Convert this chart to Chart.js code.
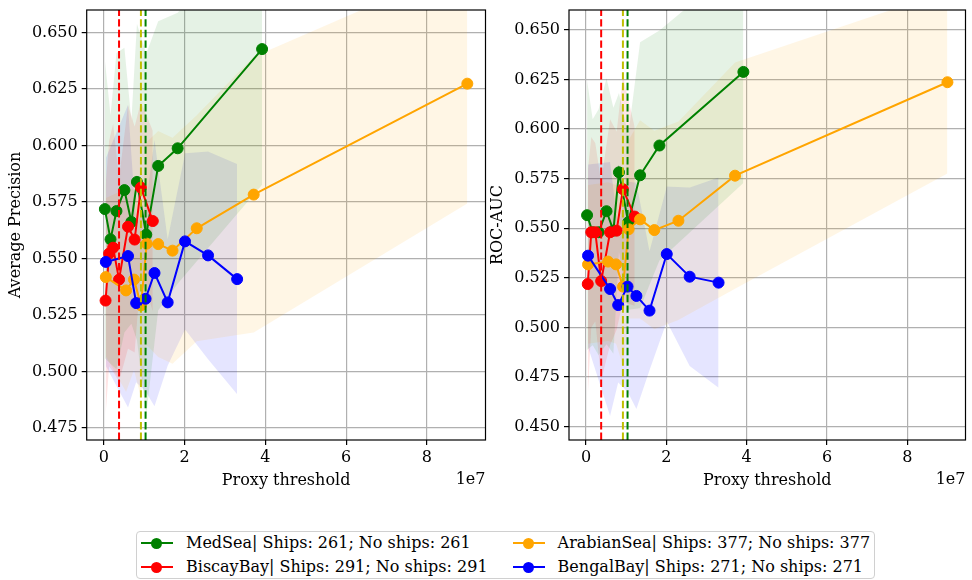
<!DOCTYPE html>
<html>
<head>
<meta charset="utf-8">
<script src="https://cdn.jsdelivr.net/npm/chart.js@4.4.1/dist/chart.umd.min.js"></script>
<style>
  body { margin: 0; background: #fff; width: 972px; height: 580px; position: relative; overflow: hidden; font-family: 'DejaVu Serif', serif; }
  .plot { position: absolute; top: 0; }
  #legend {
    position: absolute; left: 136px; top: 531px;
    padding: 3px 4px; border: 1px solid #d0d0d0; border-radius: 4px;
    display: grid; grid-template-rows: 16px 16px; grid-auto-flow: column;
    column-gap: 25px; row-gap: 8px;
    font-size: 16px; line-height: 16px; color: #000; background: #fff;
  }
  .entry { display: flex; align-items: center; white-space: nowrap; }
  .handle { position: relative; width: 32px; height: 16px; margin-right: 13px; }
  .handle .ln { position: absolute; left: 0; right: 0; top: 7px; height: 2px; }
  .handle .dot { position: absolute; left: 10px; top: 2.5px; width: 11px; height: 11px; border-radius: 50%; }
</style>
</head>
<body>
<div class="plot" style="left:0;width:492px;height:500px"><canvas id="apChart" width="492" height="500"></canvas></div>
<div class="plot" style="left:482px;width:490px;height:500px"><canvas id="rocChart" width="490" height="500"></canvas></div>
<div id="legend"></div>
<script>
// regions and sample counts
const regions = ['MedSea', 'BiscayBay', 'ArabianSea', 'BengalBay'];
const shipCounts = [261, 291, 377, 271];
const noShipCounts = [261, 291, 377, 271];

// proxy thresholds per region
const medX = [2.5e5, 1.65e6, 3.12e6, 5.09e6, 6.81e6, 8.19e6, 1.05e7, 1.345e7, 1.827e7, 3.918e7];
const biscayX = [4.2e5, 1.3e6, 2.3e6, 3.76e6, 5.98e6, 7.62e6, 9.17e6, 1.212e7];
const arabianX = [4.9e5, 5.5e6, 7.46e6, 9.2e6, 1.06e7, 1.345e7, 1.70e7, 2.30e7, 3.71e7, 9.0e7];
const bengalX = [4.9e5, 5.98e6, 8.0e6, 1.033e7, 1.254e7, 1.58e7, 2.01e7, 2.58e7, 3.30e7];

// average precision (mean, std)
const medAP = [0.5719, 0.5585, 0.5710, 0.5803, 0.5662, 0.5839, 0.5606, 0.5910, 0.5988, 0.6427];
const medAPStd = [0.066, 0.055, 0.070, 0.063, 0.045, 0.070, 0.080, 0.064, 0.060, 0.060];
const biscayAP = [0.5314, 0.5522, 0.5548, 0.5407, 0.5641, 0.5584, 0.5814, 0.5666];
const biscayAPStd = [0.051, 0.050, 0.055, 0.045, 0.054, 0.050, 0.038, 0.040];
const arabianAP = [0.5418, 0.5359, 0.5407, 0.5293, 0.5566, 0.5564, 0.5535, 0.5634, 0.5783, 0.6274];
const arabianAPStd = [0.035, 0.045, 0.040, 0.041, 0.045, 0.050, 0.050, 0.050, 0.061, 0.053];
const bengalAP = [0.5485, 0.5511, 0.5303, 0.5322, 0.5436, 0.5306, 0.5576, 0.5514, 0.5409];
const bengalAPStd = [0.046, 0.067, 0.035, 0.041, 0.059, 0.028, 0.039, 0.046, 0.051];

// ROC-AUC (mean, std)
const medROC = [0.5566, 0.5480, 0.5480, 0.5586, 0.5488, 0.5782, 0.5530, 0.5767, 0.5917, 0.6288];
const medROCStd = [0.068, 0.057, 0.062, 0.067, 0.062, 0.040, 0.044, 0.067, 0.058, 0.056];
const biscayROC = [0.5219, 0.5480, 0.5480, 0.5234, 0.5480, 0.5488, 0.5697, 0.5559];
const biscayROCStd = [0.057, 0.048, 0.045, 0.050, 0.057, 0.050, 0.057, 0.045];
const arabianROC = [0.5318, 0.5332, 0.5318, 0.5206, 0.5495, 0.5545, 0.5491, 0.5538, 0.5765, 0.6236];
const arabianROCStd = [0.040, 0.040, 0.040, 0.040, 0.045, 0.050, 0.050, 0.050, 0.057, 0.046];
const bengalROC = [0.5362, 0.5194, 0.5113, 0.5206, 0.5159, 0.5085, 0.5370, 0.5256, 0.5226];
const bengalROCStd = [0.046, 0.064, 0.039, 0.053, 0.057, 0.030, 0.034, 0.045, 0.053];

// dashed reference thresholds
const vlineX = [3.76e6, 9.18e6, 1.033e7];

// tick labels
const xTicks = [0, 2e7, 4e7, 6e7, 8e7];
const apTicks = [0.475, 0.5, 0.525, 0.55, 0.575, 0.6, 0.625, 0.65];
const rocTicks = [0.45, 0.475, 0.5, 0.525, 0.55, 0.575, 0.6, 0.625, 0.65];

// styles
const lineColors = ['#008000', '#ff0000', '#ffa500', '#0000ff'];
const bandColors = ['rgba(0,128,0,0.1)', 'rgba(255,0,0,0.1)', 'rgba(255,165,0,0.1)', 'rgba(0,0,255,0.1)'];
const vlineColors = ['#ff0000', '#bfbf00', '#008000'];
const FONT = "'DejaVu Serif', serif";

Chart.defaults.font.family = FONT;
Chart.defaults.font.size = 16;
Chart.defaults.color = '#000';

const xValues = [medX, biscayX, arabianX, bengalX];

function buildDatasets(means, stds, yMin, yMax) {
    const ds = [];
    regions.forEach((r, k) => {
        const xs = xValues[k];
        ds.push({ data: xs.map((x, i) => ({x, y: means[k][i] + stds[k][i]})), fill: '+1',
            backgroundColor: bandColors[k], borderColor: 'transparent', borderWidth: 0, pointRadius: 0, order: 30 });
        ds.push({ data: xs.map((x, i) => ({x, y: means[k][i] - stds[k][i]})), fill: false,
            borderColor: 'transparent', borderWidth: 0, pointRadius: 0, order: 30 });
    });
    regions.forEach((r, k) => {
        ds.push({ label: r, data: xValues[k].map((x, i) => ({x, y: means[k][i]})), fill: false,
            borderColor: lineColors[k], backgroundColor: lineColors[k], borderWidth: 2,
            pointRadius: 5.5, pointBorderWidth: 1, pointBackgroundColor: lineColors[k],
            pointBorderColor: lineColors[k], tension: 0, order: 20 - k });
    });
    vlineX.forEach((v, k) => {
        ds.push({ data: [{x: v, y: yMin}, {x: v, y: yMax}], fill: false, borderColor: vlineColors[k],
            borderWidth: 2, borderDash: [7.4, 3.2], pointRadius: 0, order: 0 });
    });
    return ds;
}

// axes frame and offset label
const framePlugin = {
    id: 'frame',
    afterDraw(chart) {
        const {ctx, chartArea: a} = chart;
        ctx.save();
        ctx.strokeStyle = '#000';
        ctx.lineWidth = 1.2;
        ctx.strokeRect(a.left, a.top, a.right - a.left, a.bottom - a.top);
        ctx.font = '16px ' + FONT;
        ctx.fillStyle = '#000';
        ctx.textAlign = 'right';
        ctx.textBaseline = 'middle';
        ctx.fillText('1e7', a.right, 480);
        ctx.restore();
    }
};

function noPad(axis) {
    axis.paddingTop = 0; axis.paddingBottom = 0;
    axis.paddingLeft = 0; axis.paddingRight = 0;
}

function makeChart(id, means, stds, yTicks, yMin, yMax, yTitle, axisWidth, rightPad, titlePad) {
    return new Chart(document.getElementById(id), {
        type: 'line',
        data: { datasets: buildDatasets(means, stds, yMin, yMax) },
        options: {
            responsive: false,
            animation: false,
            events: [],
            layout: { padding: { top: 10, right: rightPad, left: 0, bottom: 0 } },
            plugins: { legend: { display: false }, tooltip: { enabled: false } },
            scales: {
                x: {
                    type: 'linear', min: -4.25e6, max: 9.45e7,
                    afterBuildTicks: axis => { axis.ticks = xTicks.map(v => ({value: v})); },
                    afterFit: axis => { axis.height = 60; noPad(axis); },
                    ticks: { callback: v => String(v / 1e7), padding: 3, maxRotation: 0 },
                    grid: { color: '#b0b0b0', lineWidth: 1.2, tickLength: 5, tickColor: '#000', tickWidth: 1.2 },
                    border: { display: false },
                    title: { display: true, text: 'Proxy threshold', font: { size: 16 }, padding: { top: 0, bottom: 10 } }
                },
                y: {
                    min: yMin, max: yMax,
                    afterBuildTicks: axis => { axis.ticks = yTicks.map(v => ({value: v})); },
                    afterFit: axis => { axis.width = axisWidth; noPad(axis); },
                    ticks: { callback: v => v.toFixed(3), padding: 4 },
                    grid: { color: '#b0b0b0', lineWidth: 1.2, tickLength: 5, tickColor: '#000', tickWidth: 1.2 },
                    border: { display: false },
                    title: { display: true, text: yTitle, font: { size: 16 }, padding: { top: titlePad, bottom: 0 } }
                }
            }
        },
        plugins: [framePlugin]
    });
}

makeChart('apChart', [medAP, biscayAP, arabianAP, bengalAP], [medAPStd, biscayAPStd, arabianAPStd, bengalAPStd],
    apTicks, 0.4697, 0.66, 'Average Precision', 86.7, 4, 6);
makeChart('rocChart', [medROC, biscayROC, arabianROC, bengalROC], [medROCStd, biscayROCStd, arabianROCStd, bengalROCStd],
    rocTicks, 0.4433, 0.66, 'ROC-AUC', 87, 2, 6.5);

// shared legend
const legend = document.getElementById('legend');
regions.forEach((r, k) => {
    const e = document.createElement('div');
    e.className = 'entry';
    e.innerHTML = `<span class="handle"><span class="ln" style="background:${lineColors[k]}"></span>` +
        `<span class="dot" style="background:${lineColors[k]}"></span></span>` +
        `<span>${r}| Ships: ${shipCounts[k]}; No ships: ${noShipCounts[k]}</span>`;
    legend.appendChild(e);
});
</script>
</body>
</html>
